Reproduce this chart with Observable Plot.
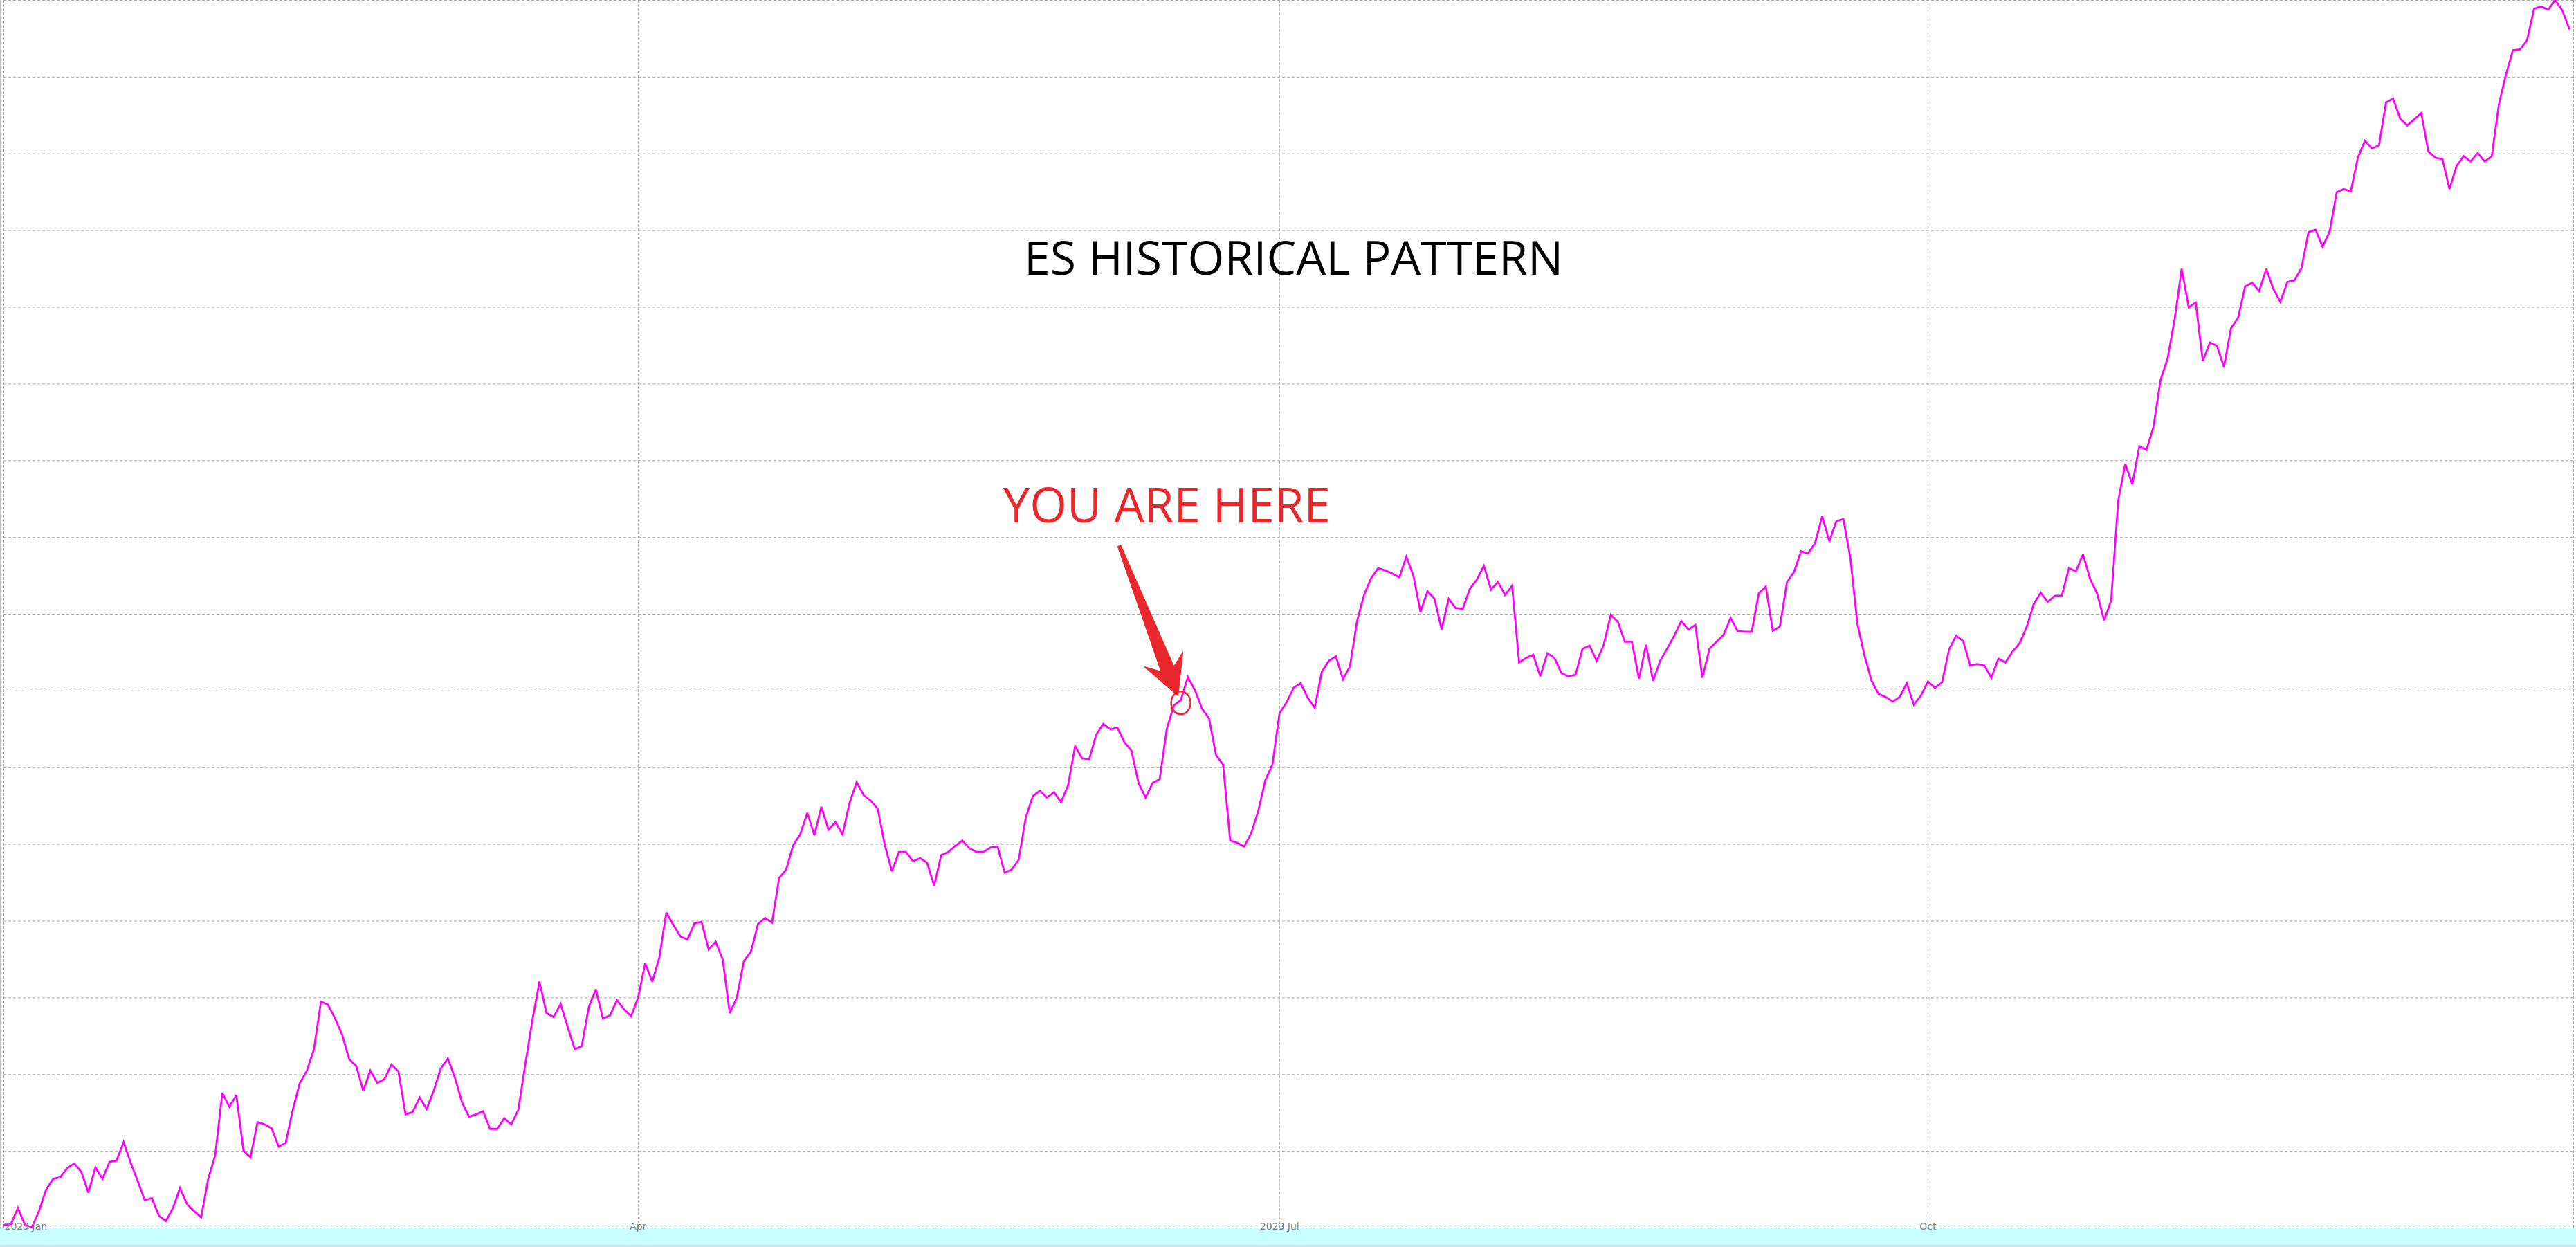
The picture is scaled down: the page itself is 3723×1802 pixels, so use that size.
<!DOCTYPE html>
<html>
<head>
<meta charset="utf-8">
<script src="https://cdn.jsdelivr.net/npm/d3@7"></script>
<script src="https://cdn.jsdelivr.net/npm/@observablehq/plot@0.6"></script>
<style>
html, body { margin: 0; padding: 0; background: #ffffff; }
#chart {
  width: 3723px; height: 1802px; position: relative; overflow: hidden;
  background:
    linear-gradient(to right, #c4c4c4 0, #c4c4c4 2px, transparent 2px) 0 0 / 100% 1774px no-repeat,
    linear-gradient(to bottom, #ffffff 0, #ffffff 1774px, #c8ffff 1774px, #c8ffff 1799px, #d4e2f0 1799px);
}
#chart svg { display: block; background: transparent; }
</style>
</head>
<body>
<div id="chart"></div>
<script>
// ---- data (values in grid units) ----
const startDate = "2023-01-01";
const endDate = "2024-01-01";

// daily values, Jan 1 – Mar 31
const q1Values = [0.04,0.05,0.26,0.04,0.01,0.22,0.50,0.64,0.66,0.78,
  0.84,0.73,0.46,0.79,0.64,0.86,0.88,1.12,0.85,0.61,
  0.36,0.39,0.16,0.09,0.26,0.52,0.31,0.22,0.14,0.64,
  0.95,1.76,1.58,1.73,1.01,0.92,1.38,1.35,1.30,1.06,
  1.11,1.54,1.89,2.05,2.33,2.95,2.91,2.73,2.52,2.20,
  2.11,1.79,2.05,1.89,1.94,2.13,2.04,1.48,1.51,1.70,
  1.55,1.79,2.08,2.21,1.96,1.64,1.45,1.48,1.52,1.29,
  1.29,1.43,1.35,1.54,2.14,2.71,3.21,2.80,2.75,2.92,
  2.62,2.33,2.37,2.88,3.11,2.73,2.77,2.97,2.85,2.76];
// Apr 1 – Jun 30
const q2Values = [3.00,3.45,3.21,3.52,4.11,3.95,3.80,3.76,3.97,3.99,
  3.63,3.73,3.50,2.80,3.00,3.48,3.60,3.96,4.04,3.98,
  4.56,4.67,4.99,5.13,5.41,5.12,5.49,5.19,5.29,5.13,
  5.54,5.81,5.64,5.57,5.46,4.99,4.65,4.90,4.90,4.78,
  4.82,4.76,4.46,4.86,4.90,4.98,5.05,4.95,4.90,4.90,
  4.96,4.97,4.63,4.67,4.80,5.35,5.63,5.70,5.61,5.68,
  5.55,5.77,6.28,6.12,6.11,6.43,6.57,6.50,6.52,6.33,
  6.22,5.80,5.61,5.80,5.85,6.50,6.81,6.88,7.18,7.01,
  6.77,6.64,6.16,6.04,5.05,5.02,4.97,5.15,5.44,5.84,
  6.04];
// Jul 1 – Sep 30
const q3Values = [6.71,6.85,7.04,7.10,6.91,6.78,7.25,7.39,7.45,7.15,
  7.32,7.91,8.25,8.47,8.60,8.57,8.53,8.48,8.75,8.50,
  8.03,8.30,8.20,7.80,8.20,8.08,8.07,8.33,8.45,8.63,
  8.32,8.42,8.25,8.37,7.37,7.43,7.47,7.19,7.49,7.43,
  7.23,7.19,7.21,7.55,7.59,7.39,7.60,7.99,7.90,7.64,
  7.64,7.16,7.60,7.13,7.39,7.55,7.72,7.91,7.80,7.86,
  7.17,7.55,7.64,7.73,7.95,7.78,7.77,7.77,8.27,8.36,
  7.78,7.84,8.42,8.55,8.82,8.79,8.93,9.28,8.95,9.21,
  9.24,8.73,7.87,7.46,7.13,6.96,6.92,6.86,6.92,7.10,
  6.82,6.94];
// Oct 1 – Dec 31
const q4Values = [7.12,7.04,7.11,7.54,7.72,7.65,7.33,7.35,7.33,7.17,
  7.42,7.37,7.51,7.62,7.83,8.13,8.28,8.16,8.24,8.24,
  8.60,8.56,8.78,8.46,8.27,7.92,8.18,9.48,9.96,9.69,
  10.19,10.14,10.44,11.05,11.33,11.84,12.50,12.00,12.06,11.30,
  11.54,11.50,11.22,11.73,11.86,12.27,12.32,12.21,12.50,12.24,
  12.07,12.33,12.35,12.51,12.98,13.01,12.79,12.99,13.50,13.54,
  13.51,13.95,14.17,14.07,14.11,14.67,14.72,14.46,14.37,14.45,
  14.53,14.03,13.95,13.93,13.54,13.84,13.97,13.90,14.01,13.90,
  13.97,14.64,15.03,15.35,15.36,15.48,15.89,15.92,15.88,16.00,
  15.87,15.63];
const quarterStarts = ["2023-01-01", "2023-04-01", "2023-07-01", "2023-10-01"];

const tickDates = ["2023-01-01", "2023-04-01", "2023-07-01", "2023-10-01"];
const tickLabels = ["2023 Jan", "Apr", "2023 Jul", "Oct"];
const gridValues = [0,1,2,3,4,5,6,7,8,9,10,11,12,13,14,15,16];

const titleRows = [{date: "2023-07-03", value: 12.62, text: "ES HISTORICAL PATTERN"}];
const markerDate = "2023-06-17";
const markerLabel = [{date: "2023-06-15", value: 9.39, text: "YOU ARE HERE"}];

// ---- build table ----
const quarterValues = [q1Values, q2Values, q3Values, q4Values];
const series = quarterValues.flatMap((vals, q) =>
  vals.map((v, i) => ({date: d3.utcDay.offset(new Date(quarterStarts[q]), i), value: v})));
const ticks = tickDates.map((d, i) => ({date: new Date(d), label: tickLabels[i]}));
const titleData = titleRows.map(d => ({...d, date: new Date(d.date)}));
const labelData = markerLabel.map(d => ({...d, date: new Date(d.date)}));
const markerPoint = series.filter(d => +d.date === +new Date(markerDate));

const red = "#e8282d";
const gridColor = "#a8a8a8";

const arrowShape = {
  draw(context, l) {
    context.moveTo(0, -l);
    context.lineTo(30, -l + 57);
    context.lineTo(10, -l + 42);
    context.lineTo(2.5, 0);
    context.lineTo(-2.5, 0);
    context.lineTo(-10, -l + 42);
    context.lineTo(-30, -l + 57);
    context.closePath();
  }
};
const ellipseSymbol = {
  draw(context) {
    const rx = 14, ry = 16.5, k = 0.5523;
    context.moveTo(rx, 0);
    context.bezierCurveTo(rx, ry * k, rx * k, ry, 0, ry);
    context.bezierCurveTo(-rx * k, ry, -rx, ry * k, -rx, 0);
    context.bezierCurveTo(-rx, -ry * k, -rx * k, -ry, 0, -ry);
    context.bezierCurveTo(rx * k, -ry, rx, -ry * k, rx, 0);
    context.closePath();
  }
};

const tickText = {
  x: "date", text: "label", frameAnchor: "bottom", dy: 2,
  fontFamily: "DejaVu Sans", fontSize: 14, fill: "#7c8288"
};

const chart = Plot.plot({
  width: 3723,
  height: 1802,
  marginTop: 0,
  marginRight: 0,
  marginBottom: 28,
  marginLeft: 5,
  x: {type: "utc", domain: [new Date(startDate), new Date(endDate)], axis: null},
  y: {domain: [0, 16], axis: null},
  style: {background: "transparent"},
  marks: [
    Plot.gridY(gridValues, {stroke: gridColor, strokeOpacity: 1, strokeWidth: 1, strokeDasharray: "4,3"}),
    Plot.gridX(ticks.map(d => d.date), {stroke: gridColor, strokeOpacity: 1, strokeWidth: 1, strokeDasharray: "4,2"}),
    Plot.ruleX([new Date(endDate)], {stroke: gridColor, strokeWidth: 1, strokeDasharray: "4,2", dx: -4}),
    Plot.line(series, {x: "date", y: "value", stroke: "#ff00ff", strokeWidth: 2.8, strokeLinejoin: "miter", strokeMiterlimit: 3}),
    Plot.text(ticks.slice(0, 1), {...tickText, textAnchor: "start", dx: 1}),
    Plot.text(ticks.slice(1), {...tickText, textAnchor: "middle"}),
    Plot.text(titleData, {x: "date", y: "value", text: "text", fontFamily: "Open Sans", fontSize: 68, fill: "#000000"}),
    Plot.text(labelData, {x: "date", y: "value", text: "text", fontFamily: "Open Sans", fontSize: 69, fill: red}),
    Plot.vector(markerPoint, {x: "date", y: "value", length: 233, rotate: 158.6, anchor: "end",
      shape: arrowShape, fill: red, stroke: red, strokeWidth: 1, strokeLinejoin: "round", dx: -4, dy: -6}),
    Plot.dot(markerPoint, {x: "date", y: "value", symbol: ellipseSymbol, r: 16, fill: "none",
      stroke: red, strokeWidth: 2.5, dy: 4})
  ]
});
document.getElementById("chart").appendChild(chart);
</script>
</body>
</html>
